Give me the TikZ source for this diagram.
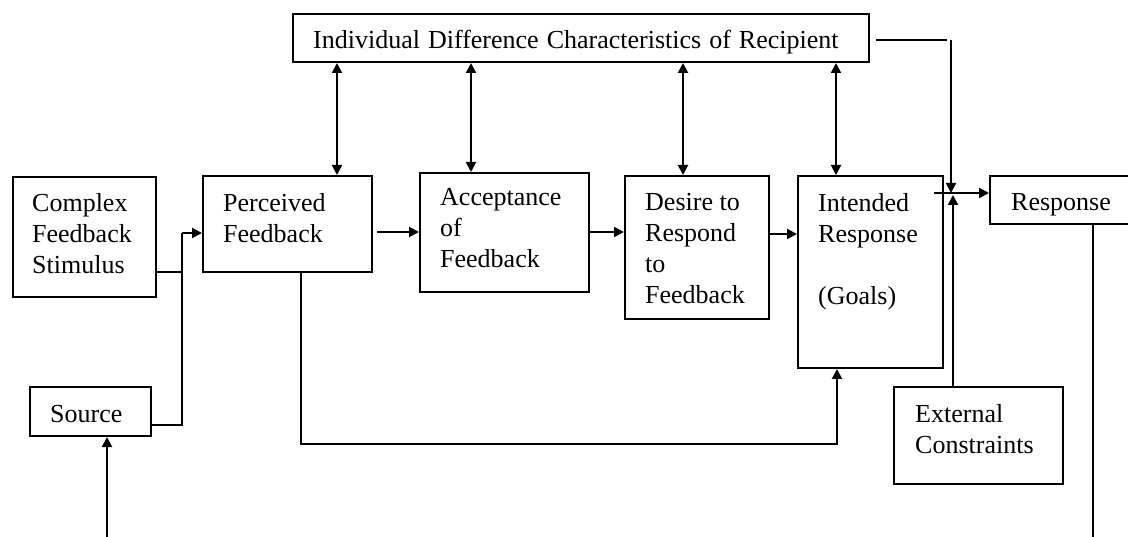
\documentclass[tikz,border=0pt]{standalone}
\usepackage{fontspec}
\setmainfont{Liberation Serif}
\usetikzlibrary{arrows.meta}
\begin{document}
\begin{tikzpicture}[x=1pt,y=-1pt,
  box/.style={draw,line width=2pt,inner sep=0pt,anchor=north west},
  lbl/.style={inner sep=0pt,anchor=north west,align=left,font=\fontsize{26}{31}\selectfont},
  ln/.style={line width=2pt},
  arr/.style={line width=2pt,-{Triangle[length=10pt,width=10pt]}},
  darr/.style={line width=2pt,{Triangle[length=10pt,width=10pt]}-{Triangle[length=10pt,width=10pt]}}]
\useasboundingbox (0,0) rectangle (1128,537);
\clip (0,0) rectangle (1128,537);
% boxes
\node[box,minimum width=576pt,minimum height=48pt] (top) at (292,13) {};
\node[box,minimum width=143pt,minimum height=120pt] (cfs) at (12,176) {};
\node[box,minimum width=121pt,minimum height=49pt] (src) at (29,386) {};
\node[box,minimum width=169pt,minimum height=96pt] (perc) at (202,175) {};
\node[box,minimum width=169pt,minimum height=119pt] (acc) at (419,172) {};
\node[box,minimum width=144pt,minimum height=143pt] (des) at (624,175) {};
\node[box,minimum width=145pt,minimum height=192pt] (int) at (797,175) {};
\node[box,minimum width=170pt,minimum height=48pt] (resp) at (989,175) {};
\node[box,minimum width=169pt,minimum height=97pt] (ext) at (893,386) {};
% labels
\node[lbl] (ttop) at ([shift={(21,17)}]top.north west) {Individual\hspace{1.5pt} Difference\hspace{1.5pt} Characteristics\hspace{1.5pt} of\hspace{1.5pt} Recipient};
\node[lbl] (tcfs) at ([shift={(20,17)}]cfs.north west) {Complex\\Feedback\\Stimulus};
\node[lbl] (tsrc) at ([shift={(21,19)}]src.north west) {Source};
\node[lbl] (tperc) at ([shift={(21,18)}]perc.north west) {Perceived\\Feedback};
\node[lbl] (tacc) at ([shift={(21,16)}]acc.north west) {Acceptance\\of\\Feedback};
\node[lbl] (tdes) at ([shift={(21,18)}]des.north west) {Desire to\\Respond\\to\\Feedback};
\node[lbl] (tint) at ([shift={(21,18)}]int.north west) {Intended\\Response\\[31pt](Goals)};
\node[lbl] (tresp) at ([shift={(22,18)}]resp.north west) {Response};
\node[lbl] (text) at ([shift={(22,18)}]ext.north west) {External\\Constraints};
% junction coordinates
\coordinate (j1) at (182,233);
\coordinate (j2) at (182,425);
\coordinate (b1) at (301,444);
\coordinate (b2) at (837,444);
\coordinate (c1) at (951,40);
\coordinate (m1) at (951,193);
\coordinate (m2) at (953,195);
\coordinate (s0) at (107,537);
\coordinate (r0) at (1093,537);
% connectors
\draw[ln] (cfs.east |- 0,272) -- (j1 |- 0,272);
\draw[ln] (src.east |- j2) -- (j2) -- (j1);
\draw[arr] (j1) -- (perc.west |- j1);
\draw[arr,shorten <=4pt] (perc.east |- 0,232) -- (acc.west |- 0,232);
\draw[arr] (acc.east |- 0,232) -- (des.west |- 0,232);
\draw[arr] (des.east |- 0,234) -- (int.west |- 0,234);
\draw[darr] (top.south -| 337,0) -- (perc.north -| 337,0);
\draw[darr] (top.south -| 471,0) -- (acc.north -| 471,0);
\draw[darr] (top.south -| 683,0) -- (des.north -| 683,0);
\draw[darr] (top.south -| 836,0) -- (int.north -| 836,0);
\draw[arr] (perc.south -| b1) -- (b1) -- (b2) -- (int.south -| b2);
\draw[arr,shorten <=-10pt] (int.east |- m1) -- (resp.west |- m1);
\draw[ln,shorten <=6pt,shorten >=4pt] (top.east |- c1) -- (c1);
\draw[arr] (c1) -- (m1);
\draw[arr] (ext.north -| m2) -- (m2);
\draw[ln] (resp.south -| r0) -- (r0);
\draw[arr] (s0) -- (src.south -| s0);
\end{tikzpicture}
\end{document}
